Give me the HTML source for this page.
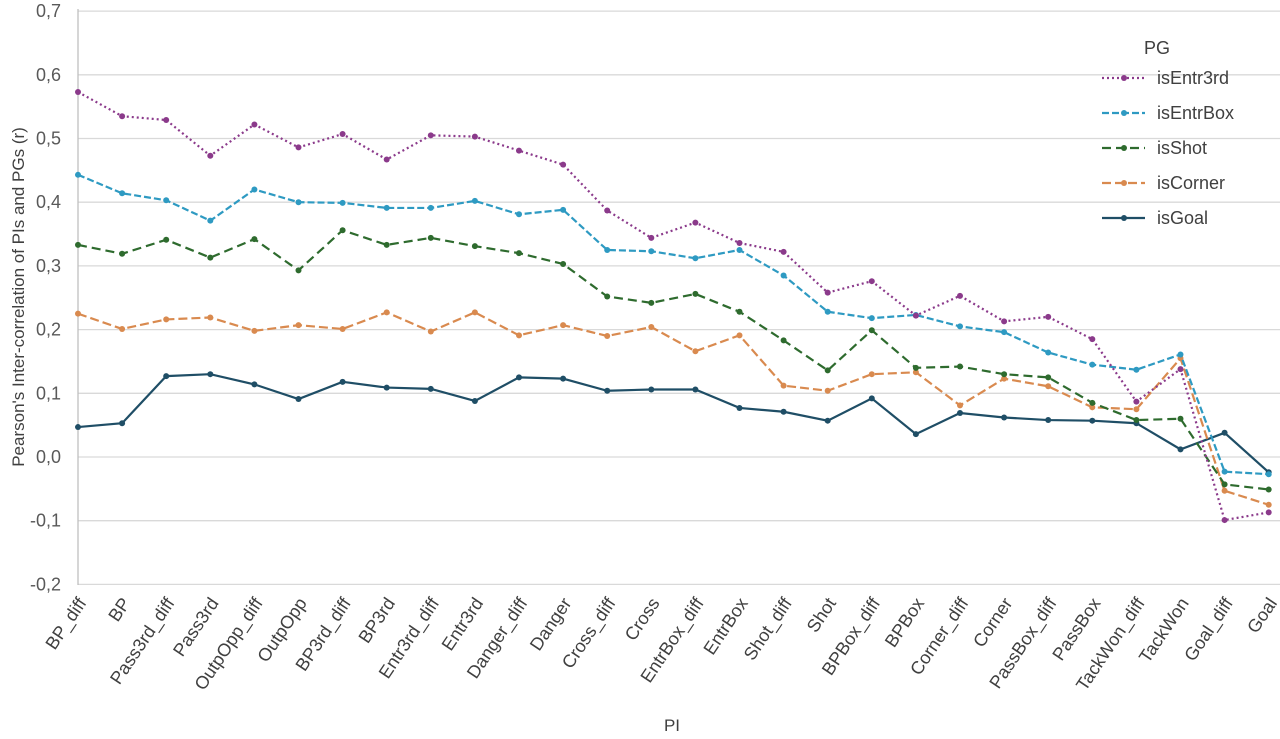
<!DOCTYPE html>
<html><head><meta charset="utf-8"><style>body{margin:0;background:#fff}svg{display:block}text{font-family:"Liberation Sans",Arial,sans-serif}</style></head><body>
<svg id="s" width="1280" height="739" xmlns="http://www.w3.org/2000/svg"></svg>
<script>
const s=document.getElementById('s');let h='';
const Y=v=>457-v*637, X=i=>78+i*44.1;
for(let k=-2;k<=7;k++){const y=Y(k/10);h+=`<line x1="78" x2="1280" y1="${y}" y2="${y}" stroke="#d9d9d9" stroke-width="1.3"/>`;
h+=`<text x="61" y="${y+6}" text-anchor="end" font-size="18" fill="#595959">${(k<0?'-':'')+'0,'+Math.abs(k)}</text>`;}
h+=`<line x1="78" x2="78" y1="9" y2="585" stroke="#bfbfbf" stroke-width="1.3"/>`;
const cats="BP_diff BP Pass3rd_diff Pass3rd OutpOpp_diff OutpOpp BP3rd_diff BP3rd Entr3rd_diff Entr3rd Danger_diff Danger Cross_diff Cross EntrBox_diff EntrBox Shot_diff Shot BPBox_diff BPBox Corner_diff Corner PassBox_diff PassBox TackWon_diff TackWon Goal_diff Goal".split(' ');
cats.forEach((c,i)=>{h+=`<text transform="translate(${X(i)+9},603) rotate(-56)" text-anchor="end" font-size="18" fill="#404040">${c}</text>`;});
const S=[
["isGoal","#1f4e66","",[0.047,0.053,0.127,0.130,0.114,0.091,0.118,0.109,0.107,0.088,0.125,0.123,0.104,0.106,0.106,0.077,0.071,0.057,0.092,0.036,0.069,0.062,0.058,0.057,0.053,0.012,0.038,-0.024]],
["isCorner","#d98a4f","9,4",[0.225,0.201,0.216,0.219,0.198,0.207,0.201,0.227,0.197,0.227,0.191,0.207,0.190,0.204,0.166,0.191,0.112,0.104,0.130,0.133,0.081,0.123,0.111,0.078,0.075,0.155,-0.053,-0.075]],
["isShot","#2e6b2e","9,5",[0.333,0.319,0.341,0.313,0.342,0.293,0.356,0.333,0.344,0.331,0.320,0.303,0.252,0.242,0.256,0.228,0.183,0.136,0.199,0.140,0.142,0.130,0.125,0.085,0.058,0.060,-0.043,-0.051]],
["isEntrBox","#2e9ac2","7,3",[0.443,0.414,0.403,0.371,0.420,0.400,0.399,0.391,0.391,0.402,0.381,0.388,0.325,0.323,0.312,0.325,0.285,0.228,0.218,0.223,0.205,0.196,0.164,0.145,0.137,0.161,-0.023,-0.027]],
["isEntr3rd","#8b3a8b","2,3",[0.573,0.535,0.529,0.473,0.522,0.486,0.507,0.467,0.505,0.503,0.481,0.459,0.387,0.344,0.368,0.336,0.322,0.258,0.276,0.222,0.253,0.213,0.220,0.185,0.087,0.138,-0.099,-0.087]]];
const ly={isEntr3rd:78,isEntrBox:113,isShot:148,isCorner:183,isGoal:218};
S.forEach(([n,c,d,v])=>{h+=`<polyline fill="none" stroke="${c}" stroke-width="2.2" ${d?`stroke-dasharray="${d}"`:''} points="${v.map((x,i)=>X(i)+','+Y(x)).join(' ')}"/>`;
v.forEach((x,i)=>h+=`<circle cx="${X(i)}" cy="${Y(x)}" r="3" fill="${c}"/>`);
const y=ly[n];h+=`<line x1="1102" x2="1145" y1="${y}" y2="${y}" stroke="${c}" stroke-width="2.2" ${d?`stroke-dasharray="${d}"`:''}/><circle cx="1124" cy="${y}" r="3" fill="${c}"/><text x="1157" y="${y+6}" font-size="18" fill="#404040">${n}</text>`;});
h+=`<text x="1157" y="54" text-anchor="middle" font-size="18" fill="#404040">PG</text>`;
h+=`<text transform="translate(24,297) rotate(-90)" text-anchor="middle" font-size="17" fill="#404040">Pearson's Inter-correlation of PIs and PGs (r)</text>`;
h+=`<text x="672" y="731" text-anchor="middle" font-size="17" fill="#404040">PI</text>`;
s.innerHTML=h;
</script></body></html>
